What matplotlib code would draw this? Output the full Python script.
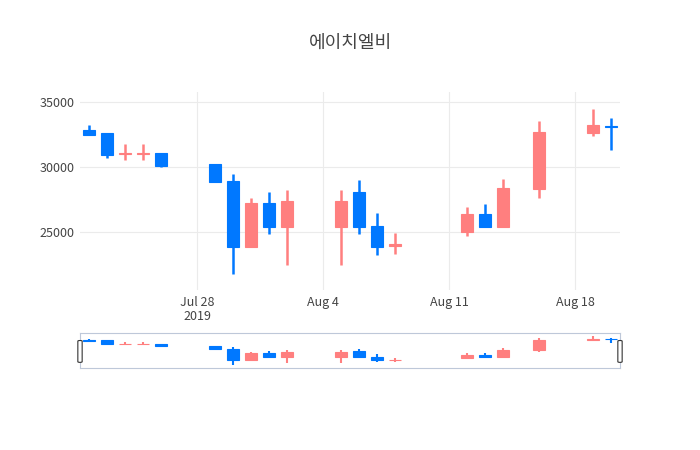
import matplotlib
matplotlib.use("Agg")
import matplotlib.pyplot as plt
import matplotlib.dates as mdates
from matplotlib.patches import Rectangle, FancyBboxPatch
import datetime as dt

plt.rcParams['font.family'] = ['Noto Sans CJK KR', 'DejaVu Sans']

dates = ["2019-07-22","2019-07-23","2019-07-24","2019-07-25","2019-07-26",
         "2019-07-29","2019-07-30","2019-07-31","2019-08-01","2019-08-02",
         "2019-08-05","2019-08-06","2019-08-07","2019-08-08",
         "2019-08-12","2019-08-13","2019-08-14","2019-08-16",
         "2019-08-19","2019-08-20"]
opens  = [32850,32600,31000,31000,31100,30200,28950,23850,27200,25350,
          25350,28100,25450,23950,25000,26350,25400,28300,32600,33150]
highs  = [33250,32600,31800,31800,31100,30200,29500,27650,28100,28200,
          28200,29000,26450,24900,26900,27150,29050,33550,34450,33750]
lows   = [32450,30700,30550,30550,30000,28850,21800,23850,24850,22500,
          22500,24850,23200,23300,24700,25400,25400,27600,32400,31300]
closes = [32500,30900,31100,31100,30050,28850,23850,27200,25350,27350,
          27350,25350,23850,24050,26350,25400,28400,32700,33200,33050]

UP = '#ff7f7f'
DOWN = '#0078ff'
xs = [mdates.date2num(dt.datetime.strptime(d, "%Y-%m-%d")) for d in dates]

fig = plt.figure(figsize=(7, 4.5), dpi=100)
ax = fig.add_axes([80/700, 1-290/450, 540/700, 198/450])
sl = fig.add_axes([80/700, 1-368/450, 540/700, 35/450])

def draw(a, bw, lw):
    for x, o, h, l, c in zip(xs, opens, highs, lows, closes):
        col = UP if c >= o else DOWN
        a.plot([x, x], [l, h], color=col, lw=lw, solid_capstyle='butt', zorder=2)
        lo, hi = min(o, c), max(o, c)
        if hi - lo < 60:
            hi = lo + 60
        a.add_patch(Rectangle((x-bw/2, lo), bw, hi-lo, facecolor=col, edgecolor=col, lw=0.8, zorder=3))

draw(ax, 0.62, 1.8)
draw(sl, 0.62, 1.5)

xmin, xmax = xs[0]-0.5, xs[-1]+0.5
for a in (ax, sl):
    a.set_xlim(xmin, xmax)
    a.set_ylim(20540, 35770)

ax.set_yticks([25000, 30000, 35000])
ax.set_yticklabels(['25000', '30000', '35000'])
tick_dates = ["2019-07-28", "2019-08-04", "2019-08-11", "2019-08-18"]
tick_labels = ["Jul 28\n2019", "Aug 4", "Aug 11", "Aug 18"]
ax.set_xticks([mdates.date2num(dt.datetime.strptime(d, "%Y-%m-%d")) for d in tick_dates])
ax.set_xticklabels(tick_labels, linespacing=1.1, va='top')
ax.tick_params(length=0, labelsize=9, colors='#444444', pad=4)
ax.grid(True, color='#ebebeb', lw=0.8, zorder=0)
for s in ax.spines.values():
    s.set_visible(False)

sl.set_xticks([]); sl.set_yticks([])
for s in sl.spines.values():
    s.set_color('#bec8d9'); s.set_linewidth(0.8)
for hx in (xmin, xmax):
    sl.add_patch(FancyBboxPatch((hx-0.12, 23000), 0.24, 9500,
                 boxstyle='round,pad=0,rounding_size=0.1', facecolor='white',
                 edgecolor='#333333', lw=0.8, clip_on=False, zorder=5, mutation_aspect=3000))

fig.text(350/700, 1-43/450, '에이치엘비', ha='center', va='center', fontsize=13, color='#444444')
fig.savefig('out.png', dpi=100, facecolor='white')
